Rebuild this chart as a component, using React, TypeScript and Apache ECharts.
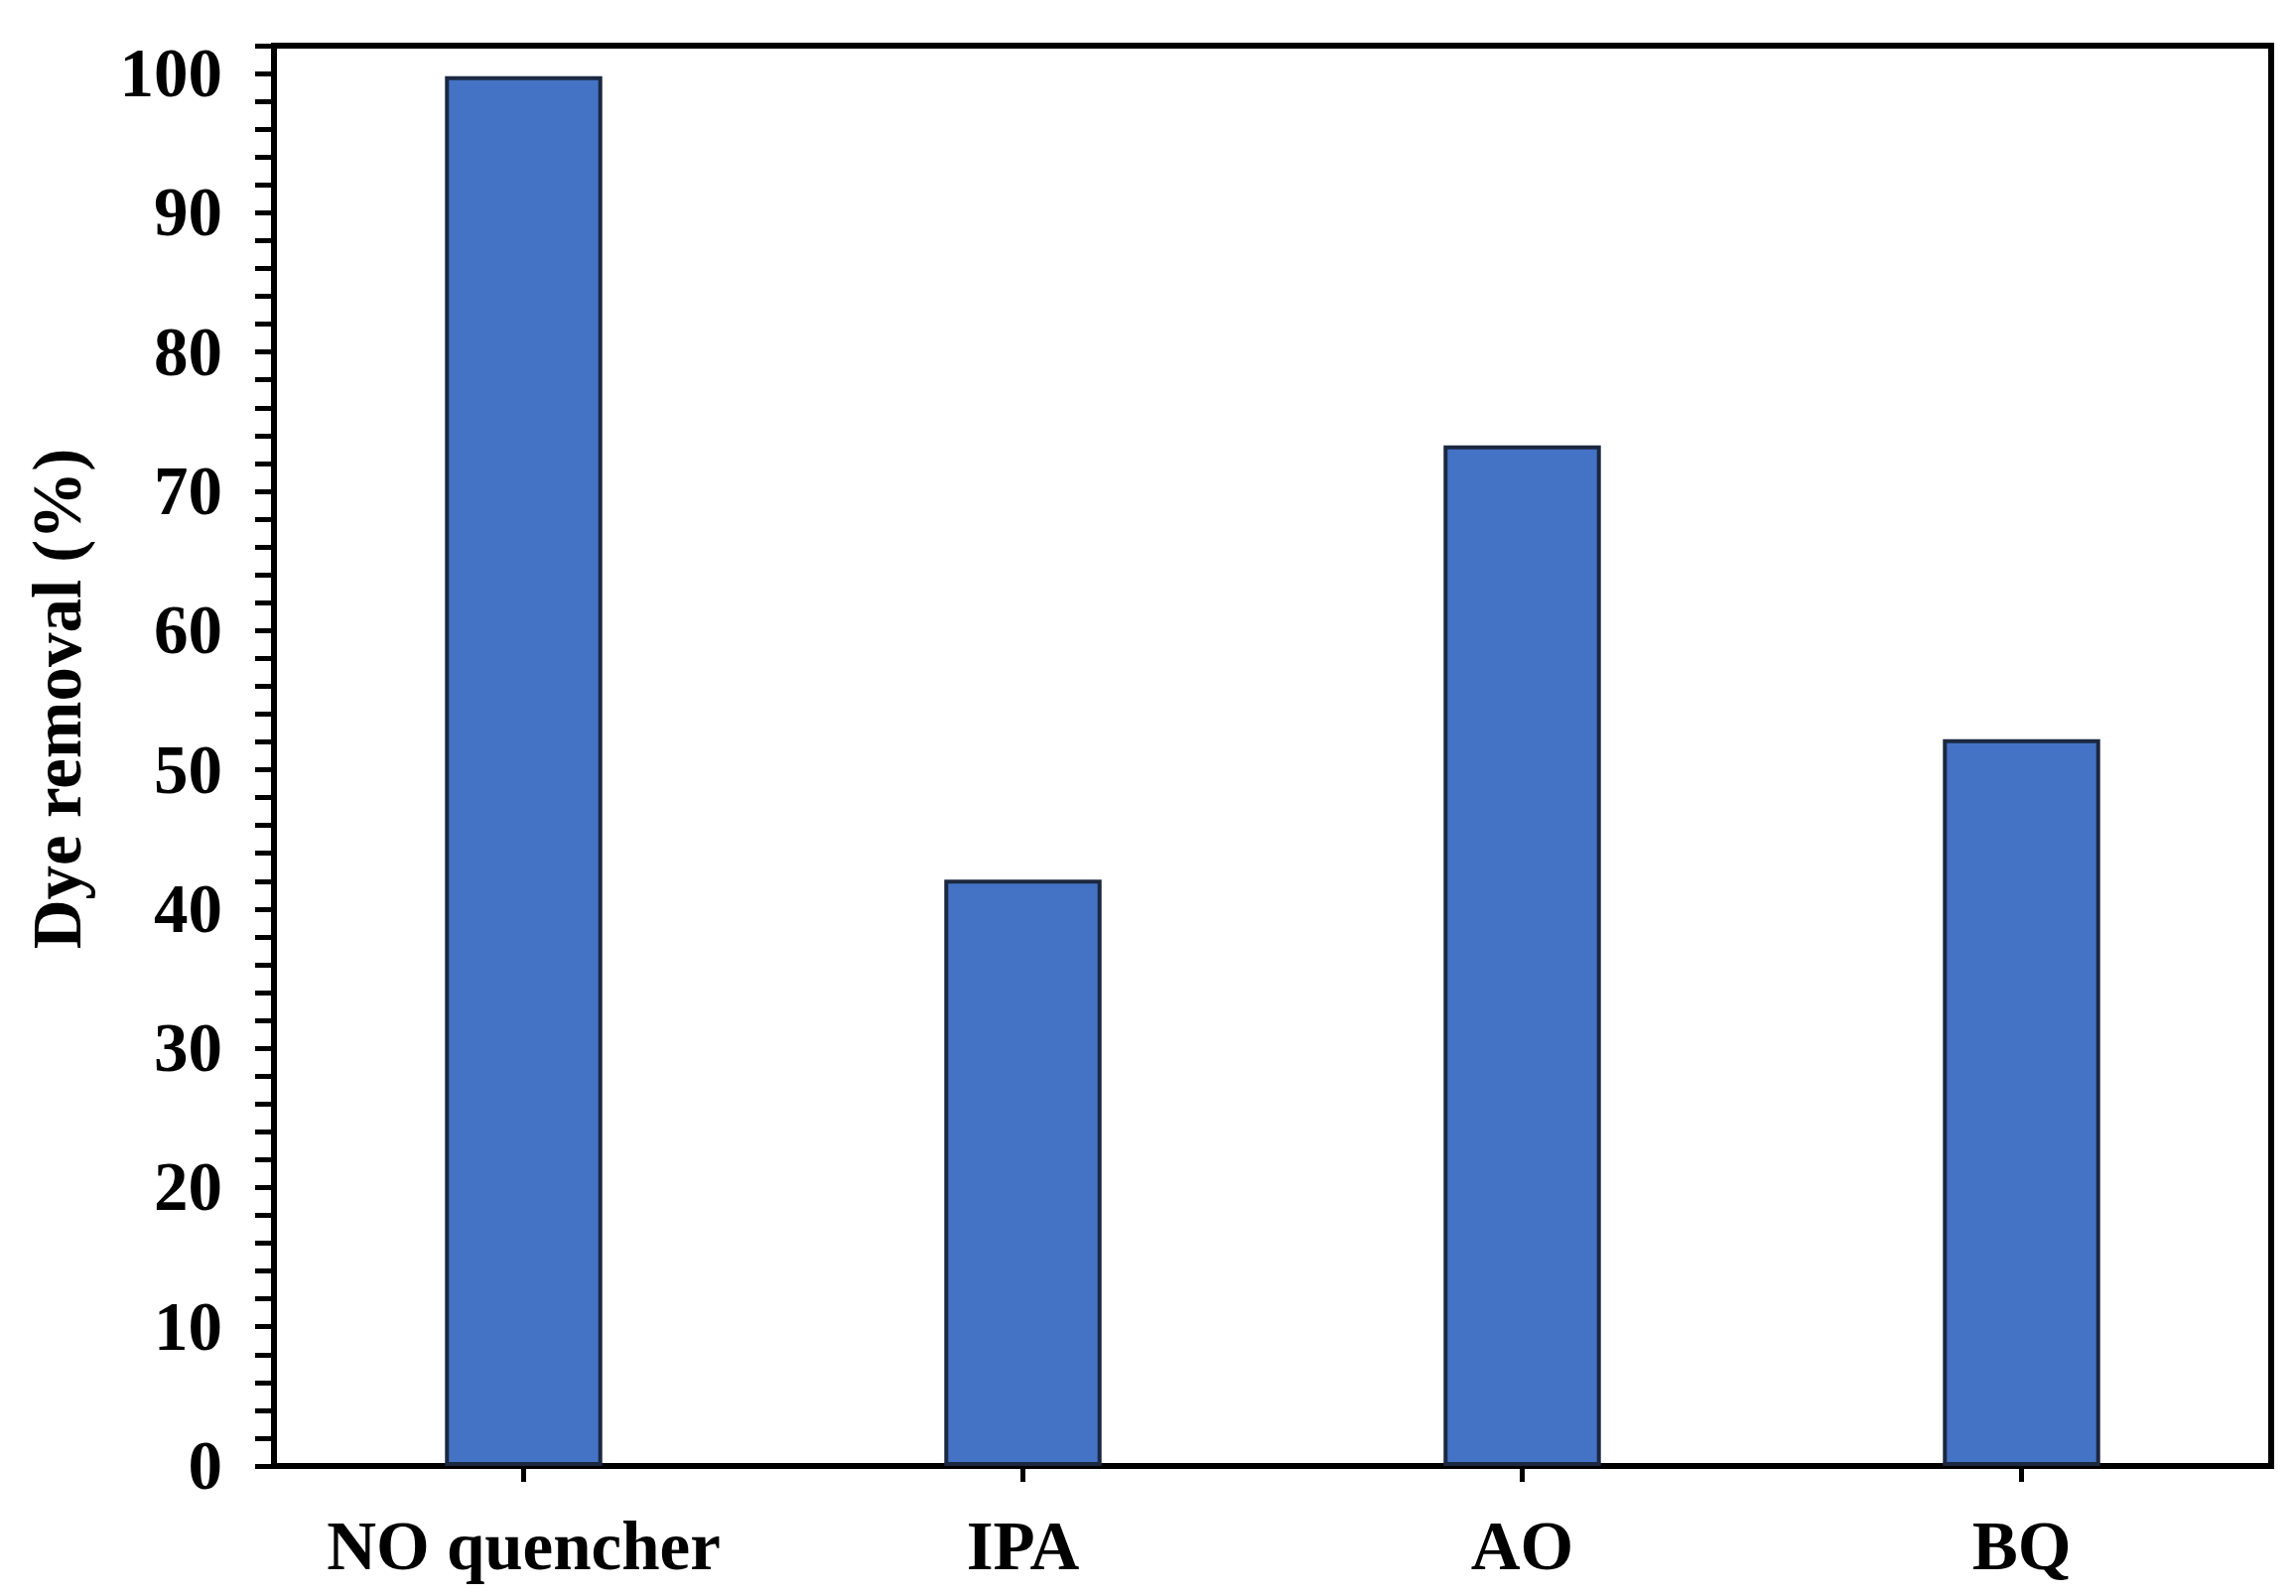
import React, { useEffect, useRef } from "react";
import * as echarts from "echarts";

const categories = ["NO quencher", "IPA", "AO", "BQ"];
const dyeRemoval = [99.8, 42.1, 73.3, 52.2];
const yMin = 0;
const yMax = 102;
const yMinorStep = 2;
const yLabelStep = 10;
const yAxisTitle = "Dye removal (%)";

const FONT = '"Liberation Serif", "Times New Roman", serif';

export default function App() {
  const ref = useRef<HTMLDivElement>(null);
  useEffect(() => {
    if (!ref.current) return;
    const chart = echarts.init(ref.current, undefined, { renderer: "svg" });
    chart.setOption({
      animation: false,
      backgroundColor: "#ffffff",
      grid: {
        left: 276,
        right: 25,
        top: 46,
        bottom: 131,
        show: true,
        borderColor: "#000000",
        borderWidth: 6,
        backgroundColor: "transparent",
      },
      xAxis: {
        type: "category",
        data: categories,
        boundaryGap: true,
        axisLine: { show: true, lineStyle: { color: "#000", width: 6 } },
        axisTick: {
          show: true,
          alignWithLabel: true,
          inside: false,
          length: 16,
          lineStyle: { color: "#000", width: 5 },
        },
        axisLabel: {
          interval: 0,
          margin: 46,
          color: "#000",
          fontFamily: FONT,
          fontWeight: "bold",
          fontSize: 69,
        },
        splitLine: { show: false },
      },
      yAxis: {
        type: "value",
        min: yMin,
        max: yMax,
        interval: yMinorStep,
        axisLine: { show: true, lineStyle: { color: "#000", width: 6 } },
        axisTick: {
          show: true,
          inside: false,
          length: 19,
          lineStyle: { color: "#000", width: 5 },
        },
        axisLabel: {
          margin: 52,
          color: "#000",
          fontFamily: FONT,
          fontWeight: "bold",
          fontSize: 69,
          formatter: (v: number) => (v % yLabelStep === 0 ? String(v) : ""),
        },
        splitLine: { show: false },
      },
      graphic: [
        {
          type: "text",
          x: 58,
          y: 704,
          rotation: Math.PI / 2,
          style: {
            text: yAxisTitle,
            fontFamily: FONT,
            fontWeight: "bold",
            fontSize: 69,
            fill: "#000",
            align: "center",
            verticalAlign: "middle",
          },
        },
      ],
      series: [
        {
          type: "bar",
          data: dyeRemoval,
          barWidth: "31.5%",
          itemStyle: {
            color: "#4472C4",
            borderColor: "#1b2840",
            borderWidth: 4,
          },
        },
      ],
    });
    return () => chart.dispose();
  }, []);
  return (
    <div
      ref={ref}
      style={{ position: "fixed", left: 0, top: 0, width: 2313, height: 1608 }}
    />
  );
}
